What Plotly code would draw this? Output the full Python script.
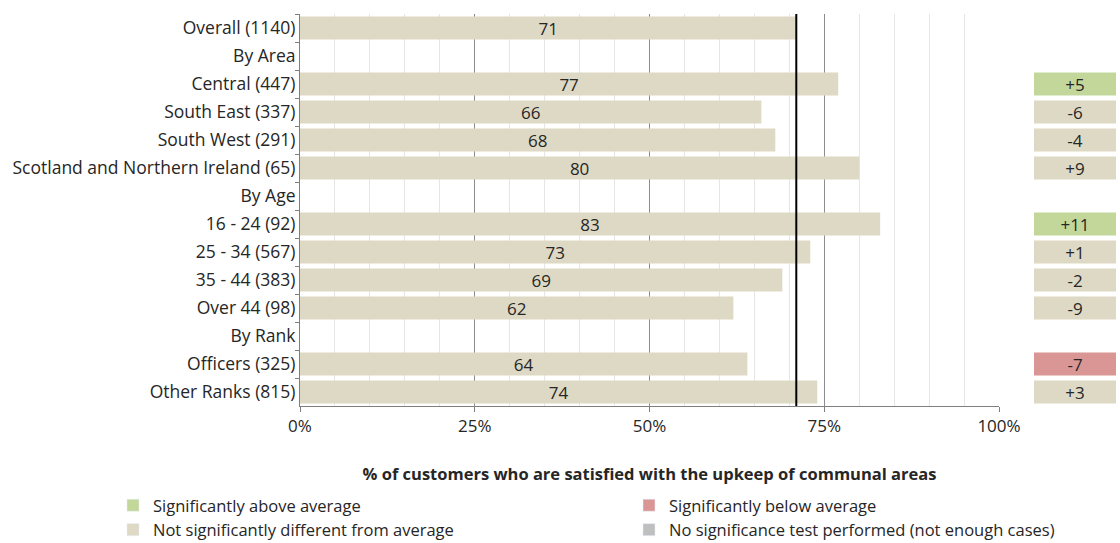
import plotly.graph_objects as go

# Row labels (top to bottom); group headers have no bar
categories = [
    "Overall (1140)", "By Area", "Central (447)", "South East (337)",
    "South West (291)", "Scotland and Northern Ireland (65)", "By Age",
    "16 - 24 (92)", "25 - 34 (567)", "35 - 44 (383)", "Over 44 (98)",
    "By Rank", "Officers (325)", "Other Ranks (815)",
]
satisfied = [71, None, 77, 66, 68, 80, None, 83, 73, 69, 62, None, 64, 74]
difference = [None, None, 5, -6, -4, 9, None, 11, 1, -2, -9, None, -7, 3]
significance = [None, None, "above", "none", "none", "none", None,
                "above", "none", "none", "none", None, "below", "none"]
average = satisfied[0]

x_ticks = [0, 25, 50, 75, 100]
x_tick_labels = ["0%", "25%", "50%", "75%", "100%"]

sig_colors = {
    "above": "#c4d79b",
    "below": "#da9694",
    "none": "#ddd9c4",
    "notest": "#bfbfbf",
}
sig_names = {
    "above": "Significantly above average",
    "below": "Significantly below average",
    "none": "Not significantly different from average",
    "notest": "No significance test performed (not enough cases)",
}

FONT = "Open Sans"
TEXT = "#262626"
FS = 17
LEG_FS = 16.5

W, H = 1120, 543


def fx(p):
    return p / W


def fy(p):
    return 1 - p / H


fig = go.Figure()

# Main satisfaction bars
fig.add_trace(go.Bar(
    y=categories, x=satisfied, orientation="h",
    marker=dict(color=sig_colors["none"], line=dict(width=0)),
    text=[("" if v is None else str(v)) for v in satisfied],
    textposition="inside", insidetextanchor="middle", textangle=0,
    constraintext="none",
    textfont=dict(family=FONT, size=FS, color=TEXT),
    showlegend=False, hoverinfo="skip", xaxis="x", yaxis="y",
))

# Difference-from-average boxes on the right
diff_rows = [c for c, d in zip(categories, difference) if d is not None]
diff_vals = [d for d in difference if d is not None]
diff_cols = [sig_colors[s] for s in significance if s is not None]
fig.add_trace(go.Bar(
    y=diff_rows, x=[1] * len(diff_rows), orientation="h",
    marker=dict(color=diff_cols, line=dict(width=0)),
    text=[f"{d:+d}" for d in diff_vals],
    textposition="inside", insidetextanchor="middle", textangle=0,
    constraintext="none",
    textfont=dict(family=FONT, size=FS, color=TEXT),
    showlegend=False, hoverinfo="skip", xaxis="x2", yaxis="y",
))

# Legend entries in two columns
for key, leg in [("above", "legend"), ("none", "legend"),
                 ("below", "legend2"), ("notest", "legend2")]:
    fig.add_trace(go.Bar(
        x=[None], y=[categories[0]], orientation="h", name=sig_names[key],
        marker=dict(color=sig_colors[key]), legend=leg,
        xaxis="x", yaxis="y", hoverinfo="skip",
    ))

# Average reference line
fig.add_shape(type="line", x0=average, x1=average, y0=0, y1=1,
              xref="x", yref="y domain",
              line=dict(color="black", width=2))

fig.update_layout(
    width=W, height=H,
    margin=dict(l=0, r=0, t=0, b=0, autoexpand=False),
    paper_bgcolor="white", plot_bgcolor="white",
    barmode="overlay", bargap=0.18,
    uniformtext=dict(minsize=FS, mode="show"),
    font=dict(family=FONT, size=FS, color=TEXT),
    xaxis=dict(
        domain=[fx(300), fx(999)], range=[0, 100], anchor="y",
        tickvals=x_ticks, ticktext=x_tick_labels,
        showgrid=True, gridcolor="#8c8c8c", gridwidth=1,
        minor=dict(dtick=5, tick0=0, showgrid=True, gridcolor="#e6e6e6",
                   gridwidth=1),
        zeroline=False, showline=True, linecolor="#7f7f7f", linewidth=1,
        ticks="outside", ticklen=5, tickcolor="#7f7f7f",
        tickfont=dict(size=FS, color=TEXT),
        title=dict(
            text="<b>% of customers who are satisfied with the upkeep of communal areas</b>",
            font=dict(size=16.5, color=TEXT), standoff=32,
        ),
        automargin=False, fixedrange=True,
    ),
    xaxis2=dict(
        domain=[fx(1034), fx(1116)], range=[0, 1],
        visible=False, showgrid=False, anchor="y", fixedrange=True,
    ),
    yaxis=dict(
        domain=[fy(406), fy(14)],
        categoryorder="array", categoryarray=categories,
        autorange="reversed", anchor="x",
        showline=True, linecolor="#7f7f7f", linewidth=1,
        ticks="outside", tickson="boundaries", ticklen=4,
        tickcolor="#7f7f7f", showgrid=False,
        tickfont=dict(size=17.5, color=TEXT),
        automargin=False, fixedrange=True,
    ),
    legend=dict(
        x=fx(113), y=fy(488),
        xanchor="left", yanchor="top", orientation="v",
        font=dict(size=LEG_FS, color=TEXT), bgcolor="rgba(0,0,0,0)",
        tracegroupgap=0,
    ),
    legend2=dict(
        x=fx(629), y=fy(488),
        xanchor="left", yanchor="top", orientation="v",
        font=dict(size=LEG_FS, color=TEXT), bgcolor="rgba(0,0,0,0)",
        tracegroupgap=0,
    ),
)

fig.write_html("out.html")
